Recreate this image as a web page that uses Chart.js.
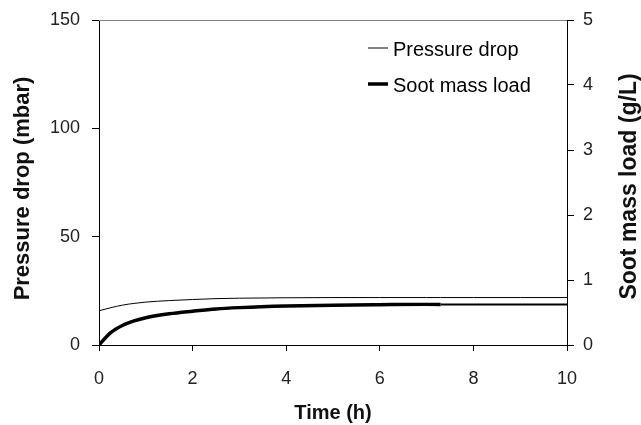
<!DOCTYPE html>
<html>
<head>
<meta charset="utf-8">
<script src="https://cdn.jsdelivr.net/npm/chart.js@4"></script>
<style>
  html, body { margin: 0; padding: 0; background: #fff; }
  #wrap { width: 641px; height: 425px; }
</style>
</head>
<body>
<div id="wrap"><canvas id="c" width="641" height="425"></canvas></div>
<script>
// données
const timeH = [0, 0.25, 0.5, 0.75, 1, 1.5, 2, 2.5, 3, 4, 5, 6, 7, 7.3, 8, 9, 10];
const pressureDrop = [15.8, 17.2, 18.4, 19.2, 19.8, 20.5, 21.0, 21.4, 21.6, 21.8, 21.9, 21.9, 21.9, 21.9, 21.9, 21.9, 21.9];
const sootLoad = [0.0, 0.19, 0.30, 0.37, 0.42, 0.48, 0.52, 0.555, 0.575, 0.60, 0.613, 0.62, 0.625, 0.625, 0.625, 0.625, 0.625];
const xTicks = [0, 2, 4, 6, 8, 10];
const seriesLabels = ['Pressure drop', 'Soot mass load'];
const leftTitle = 'Pressure drop (mbar)';
const rightTitle = 'Soot mass load (g/L)';

const FONT = 'Liberation Sans, Arial, sans-serif';

// légende dans la zone du graphique + titres des axes verticaux (lus de bas en haut)
const extras = {
  id: 'extras',
  afterDraw(chart) {
    const ctx = chart.ctx;
    const rows = [
      { label: seriesLabels[0], width: 1, y: 49 },
      { label: seriesLabels[1], width: 3.5, y: 85 }
    ];
    ctx.save();
    ctx.fillStyle = '#000';
    ctx.font = '20px ' + FONT;
    ctx.textBaseline = 'middle';
    rows.forEach(r => {
      ctx.beginPath();
      ctx.lineWidth = r.width;
      ctx.strokeStyle = '#000';
      ctx.moveTo(368, r.y - 1);
      ctx.lineTo(388, r.y - 1);
      ctx.stroke();
      ctx.fillText(r.label, 393, r.y + 1);
    });
    // bord supérieur du cadre
    const a = chart.chartArea;
    ctx.beginPath();
    ctx.lineWidth = 1;
    ctx.strokeStyle = '#808080';
    ctx.moveTo(a.left, a.top + 0.5);
    ctx.lineTo(a.right, a.top + 0.5);
    ctx.stroke();
    // titres des axes
    const midY = (a.top + a.bottom) / 2;
    ctx.textAlign = 'center';
    ctx.fillStyle = '#111';
    [[leftTitle, 23, midY + 6, 22], [rightTitle, 630, midY + 4, 23]].forEach(([txt, x, y, size]) => {
      ctx.save();
      ctx.translate(x, y);
      ctx.rotate(-Math.PI / 2);
      ctx.font = 'bold ' + size + 'px ' + FONT;
      ctx.fillText(txt, 0, 0);
      ctx.restore();
    });
    ctx.restore();
  }
};

// largeur fixe des axes verticaux, sans marge ajoutée en haut/bas
const fixVertical = w => s => {
  s.width = w;
  s.paddingTop = 0;
  s.paddingBottom = 0;
};

const config = {
  type: 'line',
  data: {
    datasets: [
      {
        label: seriesLabels[0],
        data: timeH.map((t, i) => ({ x: t, y: pressureDrop[i] })),
        borderColor: '#000',
        borderWidth: 1,
        pointRadius: 0,
        cubicInterpolationMode: 'monotone',
        yAxisID: 'y'
      },
      {
        label: seriesLabels[1],
        data: timeH.map((t, i) => ({ x: t, y: sootLoad[i] })),
        borderColor: '#000',
        borderWidth: 3.5,
        pointRadius: 0,
        cubicInterpolationMode: 'monotone',
        segment: {
          borderWidth: ctx => ctx.p0.parsed.x >= 7.3 ? 2 : undefined
        },
        yAxisID: 'y1'
      }
    ]
  },
  options: {
    responsive: false,
    animation: false,
    devicePixelRatio: 1,
    layout: { padding: { top: 20, left: 0, right: 0, bottom: 0 } },
    plugins: {
      legend: { display: false },
      tooltip: { enabled: false }
    },
    scales: {
      x: {
        type: 'linear',
        min: 0,
        max: 10,
        afterBuildTicks: s => { s.ticks = xTicks.map(v => ({ value: v })); },
        ticks: { color: '#222', font: { family: FONT, size: 18 }, padding: 17, maxRotation: 0 },
        grid: { drawOnChartArea: false, tickLength: 6, color: '#000' },
        border: { color: '#000' },
        title: { display: true, text: 'Time (h)', color: '#111', font: { family: FONT, size: 20, weight: 'bold' }, padding: { top: 1, bottom: 0 } },
        afterFit: s => { s.height = 80; s.paddingLeft = 0; s.paddingRight = 0; }
      },
      y: {
        position: 'left',
        min: 0,
        max: 150,
        ticks: { stepSize: 50, color: '#222', font: { family: FONT, size: 18 }, padding: 12 },
        grid: { drawOnChartArea: false, tickLength: 7, color: '#000' },
        border: { color: '#000' },
        afterFit: fixVertical(99)
      },
      y1: {
        position: 'right',
        min: 0,
        max: 5,
        ticks: { stepSize: 1, color: '#222', font: { family: FONT, size: 18 }, padding: 9 },
        grid: { drawOnChartArea: false, tickLength: 7, color: '#000' },
        border: { color: '#000' },
        afterFit: fixVertical(74)
      }
    }
  },
  plugins: [extras]
};

new Chart(document.getElementById('c'), config);
</script>
</body>
</html>
